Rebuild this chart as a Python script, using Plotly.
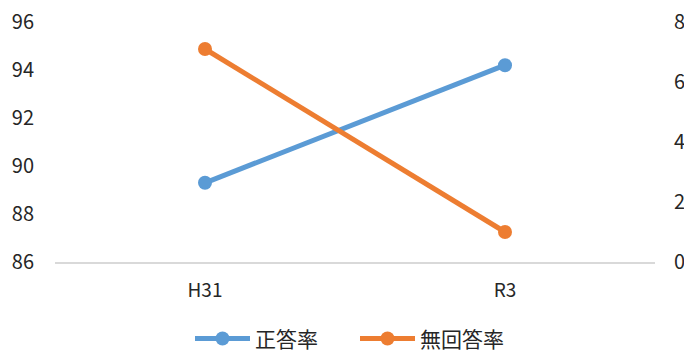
import plotly.graph_objects as go

categories = ["H31", "R3"]
correct_rate = [89.3, 94.2]
no_answer_rate = [7.1, 1.0]
left_ticks = [86, 88, 90, 92, 94, 96]
right_ticks = [0, 2, 4, 6, 8]

font_main = "Noto Sans CJK JP"

fig = go.Figure()
fig.add_trace(go.Scatter(
    x=categories, y=correct_rate, name="正答率", mode="lines+markers",
    line=dict(color="#5b9bd5", width=5), marker=dict(size=14, color="#5b9bd5"),
    yaxis="y"))
fig.add_trace(go.Scatter(
    x=categories, y=no_answer_rate, name="無回答率", mode="lines+markers",
    line=dict(color="#ed7d31", width=5), marker=dict(size=14, color="#ed7d31"),
    yaxis="y2"))

fig.update_layout(
    width=684, height=353,
    margin=dict(l=55, r=29, t=22, b=91, autoexpand=False),
    plot_bgcolor="white", paper_bgcolor="white",
    font=dict(family=font_main, size=20, color="#262626"),
    showlegend=True,
    legend=dict(orientation="h", x=0.225, xanchor="left", y=-0.235, yanchor="top",
                font=dict(size=21), itemwidth=55, entrywidth=95),
    xaxis=dict(type="category", range=[-0.5, 1.5], showgrid=False,
               showline=True, linecolor="#d9d9d9", linewidth=1.5,
               ticks="", ticklabelstandoff=10, tickfont=dict(size=19)),
    yaxis=dict(range=[86, 96], tickvals=left_ticks, showgrid=False,
               showline=False, zeroline=False, ticks="", ticklabelstandoff=20),
    yaxis2=dict(range=[0, 8], tickvals=right_ticks, overlaying="y", side="right",
                showgrid=False, showline=False, zeroline=False, ticks="",
                ticklabelstandoff=18),
)

fig.write_html("out.html")
